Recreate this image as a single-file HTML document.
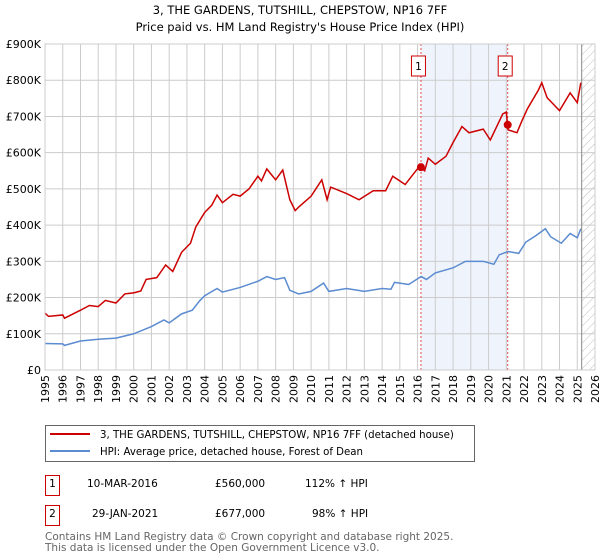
<!DOCTYPE html>
<html><head><meta charset="utf-8"><style>
body{margin:0;background:#fff;}
svg{display:block;font-family:"DejaVu Sans","Liberation Sans",sans-serif;}
</style></head><body>
<svg id="chart" width="600" height="560" viewBox="0 0 600 560">
<defs>
<pattern id="hatch" patternUnits="userSpaceOnUse" width="6" height="6" patternTransform="rotate(45)">
<line x1="0" y1="0" x2="0" y2="6" stroke="#bbb" stroke-width="1"/></pattern>
</defs>
<text x="300" y="14" text-anchor="middle" font-size="11.5">3, THE GARDENS, TUTSHILL, CHEPSTOW, NP16 7FF</text>
<text x="300" y="31" text-anchor="middle" font-size="11.5">Price paid vs. HM Land Registry's House Price Index (HPI)</text>
<g id="plot"></g>
<rect x="45.5" y="425.5" width="429" height="36" fill="#fff" stroke="#666"/>
<line x1="50" y1="434" x2="90" y2="434" stroke="#cc0000" stroke-width="2"/>
<text x="100" y="438" font-size="10.2">3, THE GARDENS, TUTSHILL, CHEPSTOW, NP16 7FF (detached house)</text>
<line x1="50" y1="451" x2="90" y2="451" stroke="#5b8bd0" stroke-width="2"/>
<text x="100" y="455" font-size="10.2">HPI: Average price, detached house, Forest of Dean</text>
<g font-size="10.5">
<rect x="45.5" y="475.5" width="14" height="20" fill="#fff" stroke="#cc0000"/>
<text x="52.5" y="487" text-anchor="middle">1</text>
<text x="87" y="487">10-MAR-2016</text>
<text x="215" y="487">£560,000</text>
<text x="305" y="487">112% ↑ HPI</text>
</g>
<g font-size="10.5">
<rect x="45.5" y="505.5" width="14" height="20" fill="#fff" stroke="#cc0000"/>
<text x="52.5" y="517" text-anchor="middle">2</text>
<text x="92" y="517">29-JAN-2021</text>
<text x="215" y="517">£677,000</text>
<text x="312" y="517">98% ↑ HPI</text>
</g>
<text x="45" y="540" font-size="10.5" fill="#666">Contains HM Land Registry data © Crown copyright and database right 2025.</text>
<text x="45" y="551" font-size="10.5" fill="#666">This data is licensed under the Open Government Licence v3.0.</text>
</svg>
<script>
const hpiYears=[1995,1996,1996.1,1997,1998,1999,2000,2001,2001.7,2002,2002.7,2003.3,2003.7,2004,2004.7,2005,2006,2007,2007.5,2008,2008.5,2008.8,2009.3,2010,2010.7,2011,2012,2013,2014,2014.5,2014.7,2015.5,2016.2,2016.5,2017,2018,2018.7,2019.7,2020.3,2020.6,2021.1,2021.7,2022.1,2022.7,2023.2,2023.5,2024.1,2024.6,2025,2025.2];
const hpiValues=[73,72,68,80,85,88,100,120,138,130,155,165,190,205,225,215,228,245,258,250,255,220,210,217,240,217,225,217,225,223,242,236,258,250,268,282,300,300,292,318,327,322,353,372,390,368,350,377,365,390];
const priceYears=[1995,1995.2,1996,1996.1,1997,1997.5,1998,1998.4,1999,1999.5,2000,2000.4,2000.7,2001.3,2001.8,2002.2,2002.7,2003.2,2003.5,2004,2004.4,2004.7,2005,2005.6,2006,2006.5,2007,2007.2,2007.5,2008,2008.4,2008.8,2009.1,2009.3,2010,2010.6,2010.9,2011.1,2012,2012.7,2013.5,2014.2,2014.6,2015.3,2016.1,2016.4,2016.6,2017,2017.6,2018,2018.5,2018.9,2019.7,2020.1,2020.8,2021,2021.1,2021.6,2021.9,2022.2,2022.8,2023,2023.3,2024,2024.6,2025,2025.2];
const priceValues=[157,148,152,143,165,178,175,192,185,210,213,218,250,255,290,272,325,350,395,435,455,483,462,485,480,500,535,522,555,525,552,470,440,450,480,525,470,505,487,470,495,495,535,512,562,550,585,568,590,628,672,655,665,635,707,712,663,655,690,722,772,793,752,716,765,738,793];
const saleYears=[2016.19,2021.08];
const saleValues=[560,677];
const saleLabels=["1","2"];
const yTicks=[0,100,200,300,400,500,600,700,800,900];
const yTickLabels=["£0","£100K","£200K","£300K","£400K","£500K","£600K","£700K","£800K","£900K"];
const xTicks=[1995,1996,1997,1998,1999,2000,2001,2002,2003,2004,2005,2006,2007,2008,2009,2010,2011,2012,2013,2014,2015,2016,2017,2018,2019,2020,2021,2022,2023,2024,2025,2026];

const L=45,R=595,T=44,B=370,X0=1995,X1=2026,YMAX=900,DATA_END=2025.25;
const xs=y=>L+(y-X0)/(X1-X0)*(R-L);
const ys=v=>B-v/YMAX*(B-T);
const NS="http://www.w3.org/2000/svg";
const g=document.getElementById('plot');
function mk(tag,attrs){const e=document.createElementNS(NS,tag);for(const k in attrs)e.setAttribute(k,attrs[k]);g.appendChild(e);return e;}

const shade=mk('rect',{x:xs(saleYears[0]),y:T,width:xs(saleYears[1])-xs(saleYears[0]),height:B-T,fill:'#eef3fc'});


const hat=mk('rect',{x:xs(DATA_END),y:T,width:R-xs(DATA_END),height:B-T,fill:'url(#hatch)'});



yTicks.forEach((v,i)=>{
 const ln=mk('line',{x1:L,x2:R,y1:ys(v),y2:ys(v),stroke:'#ccc'});
 
 
 const t=mk('text',{x:L-4,y:ys(v)+4,'text-anchor':'end','font-size':'11'});
 t.textContent=yTickLabels[i];
 
 
});
xTicks.forEach(yr=>{
 const ln=mk('line',{x1:xs(yr),x2:xs(yr),y1:T,y2:B,stroke:'#ccc'});
 
 
 const t=mk('text',{x:0,y:0,'font-size':'11','text-anchor':'end',transform:`translate(${xs(yr)+4},${B+5}) rotate(-90)`});
 t.textContent=yr;
 
 
});
const endLine=mk('line',{x1:xs(DATA_END),x2:xs(DATA_END),y1:T,y2:B,stroke:'#888','stroke-width':1});



saleYears.forEach((yr,i)=>{
 const ln=mk('line',{x1:xs(yr),x2:xs(yr),y1:T,y2:B,stroke:'#e05050','stroke-dasharray':'2,2'});
 
 
});

const hp=mk('polyline',{points:hpiYears.map((y,i)=>xs(y)+','+ys(hpiValues[i])).join(' '),fill:'none',stroke:'#5b8bd0','stroke-width':1.5});


const pp=mk('polyline',{points:priceYears.map((y,i)=>xs(y)+','+ys(priceValues[i])).join(' '),fill:'none',stroke:'#cc0000','stroke-width':1.5});



saleYears.forEach((yr,i)=>{
 const c=mk('circle',{cx:xs(yr),cy:ys(saleValues[i]),r:4,fill:'#cc0000'});
 
 
 const b=mk('rect',{x:xs(yr)-9.5,y:T+12,width:14,height:20,fill:'#fff',stroke:'#cc0000'});
 
 
 const t=mk('text',{x:xs(yr)-2.5,y:T+26,'text-anchor':'middle','font-size':'10.5'});
 t.textContent=saleLabels[i];
 
 
});
const frame=mk('rect',{x:L,y:T,width:R-L,height:B-T,fill:'none',stroke:'#ccc'});


</script>
</body></html>
